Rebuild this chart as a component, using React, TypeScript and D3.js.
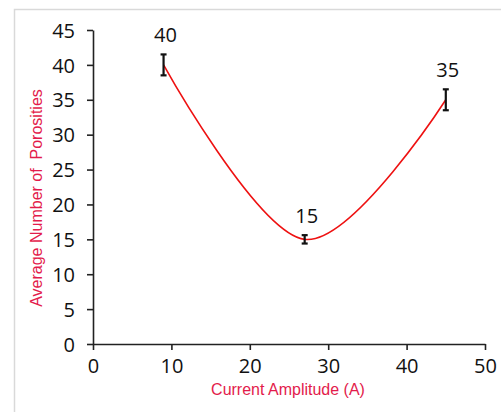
import { useRef, useEffect } from "react";
import * as d3 from "d3";

// data
const currents = [9, 27, 45];
const porosities = [40, 15, 35];
const errors = [1.5, 0.6, 1.5];
const xTicks = [0, 10, 20, 30, 40, 50];
const yTicks = [0, 5, 10, 15, 20, 25, 30, 35, 40, 45];

const W = 501;
const H = 412;

export default function App() {
  const svgRef = useRef(null);

  useEffect(() => {
    const svg = d3.select(svgRef.current);
    svg.selectAll("*").remove();

    const x = d3.scaleLinear().domain([0, 50]).range([93, 485]);
    const y = d3.scaleLinear().domain([0, 45]).range([344, 30]);

    // outer frame
    svg.append("rect")
      .attr("x", 14.5).attr("y", 9.5)
      .attr("width", W).attr("height", H)
      .attr("fill", "#fff")
      .attr("stroke", "#d9d9d9")
      .attr("stroke-width", 1.5);

    const font = "'Open Sans', 'DejaVu Sans', sans-serif";
    const titleFont = "'Liberation Sans', Arial, sans-serif";

    // y axis
    const yAxis = svg.append("g")
      .attr("transform", `translate(${x(0)},0)`)
      .call(d3.axisLeft(y).tickValues(yTicks).tickSize(6).tickPadding(12).tickSizeOuter(0));
    yAxis.attr("font-size", null).attr("font-family", null);
    yAxis.select(".domain").attr("stroke", "#222").attr("stroke-width", 1.6);
    yAxis.selectAll(".tick line").attr("stroke", "#222").attr("stroke-width", 1.6);
    yAxis.selectAll(".tick text")
      .style("font-family", font).style("font-size", "20px").attr("fill", "#111")
      .attr("dy", "0.36em");

    // x axis
    const xAxis = svg.append("g")
      .attr("transform", `translate(0,${y(0)})`)
      .call(d3.axisBottom(x).tickValues(xTicks).tickSize(6).tickPadding(9).tickSizeOuter(0));
    xAxis.attr("font-size", null).attr("font-family", null);
    xAxis.select(".domain").attr("stroke", "#222").attr("stroke-width", 1.6);
    xAxis.selectAll(".tick line").attr("stroke", "#222").attr("stroke-width", 1.6);
    xAxis.selectAll(".tick text")
      .style("font-family", font).style("font-size", "20px").attr("fill", "#111");

    // smooth line
    const pts = currents.map((c, i) => [c, porosities[i]] as [number, number]);
    const line = d3.line<[number, number]>()
      .x((d) => x(d[0]))
      .y((d) => y(d[1]))
      .curve(d3.curveCardinal.tension(0));
    svg.append("path")
      .attr("d", line(pts))
      .attr("fill", "none")
      .attr("stroke", "#ee1111")
      .attr("stroke-width", 1.6);

    // error bars
    const eb = svg.append("g").attr("stroke", "#111").attr("stroke-width", 2.2);
    currents.forEach((c, i) => {
      const cx = x(c);
      const y1 = y(porosities[i] + errors[i]);
      const y2 = y(porosities[i] - errors[i]);
      eb.append("line").attr("x1", cx).attr("x2", cx).attr("y1", y1).attr("y2", y2);
      eb.append("line").attr("x1", cx - 3).attr("x2", cx + 3).attr("y1", y1).attr("y2", y1);
      eb.append("line").attr("x1", cx - 3).attr("x2", cx + 3).attr("y1", y2).attr("y2", y2);
    });

    // data labels
    svg.append("g").selectAll("text")
      .data(pts)
      .enter()
      .append("text")
      .attr("x", (d) => x(d[0]) + 2)
      .attr("y", (d, i) => y(d[1] + errors[i]) - 12)
      .attr("text-anchor", "middle")
      .style("font-family", font)
      .style("font-size", "20px")
      .attr("fill", "#111")
      .text((d) => d[1]);

    // axis titles
    svg.append("text")
      .attr("x", 288).attr("y", 395)
      .attr("text-anchor", "middle")
      .style("font-family", titleFont)
      .style("font-size", "16px")
      .attr("fill", "#e31b4b")
      .text("Current Amplitude (A)");

    svg.append("text")
      .attr("transform", "translate(42,198) rotate(-90)")
      .attr("text-anchor", "middle")
      .style("font-family", titleFont)
      .style("font-size", "16px")
      .style("white-space", "pre")
      .attr("fill", "#e31b4b")
      .text("Average Number of  Porosities");
  }, []);

  return (
    <div style={{ position: "fixed", left: 0, top: 0, width: W, height: H, background: "#fff" }}>
      <svg ref={svgRef} width={W} height={H} style={{ display: "block" }} />
    </div>
  );
}
